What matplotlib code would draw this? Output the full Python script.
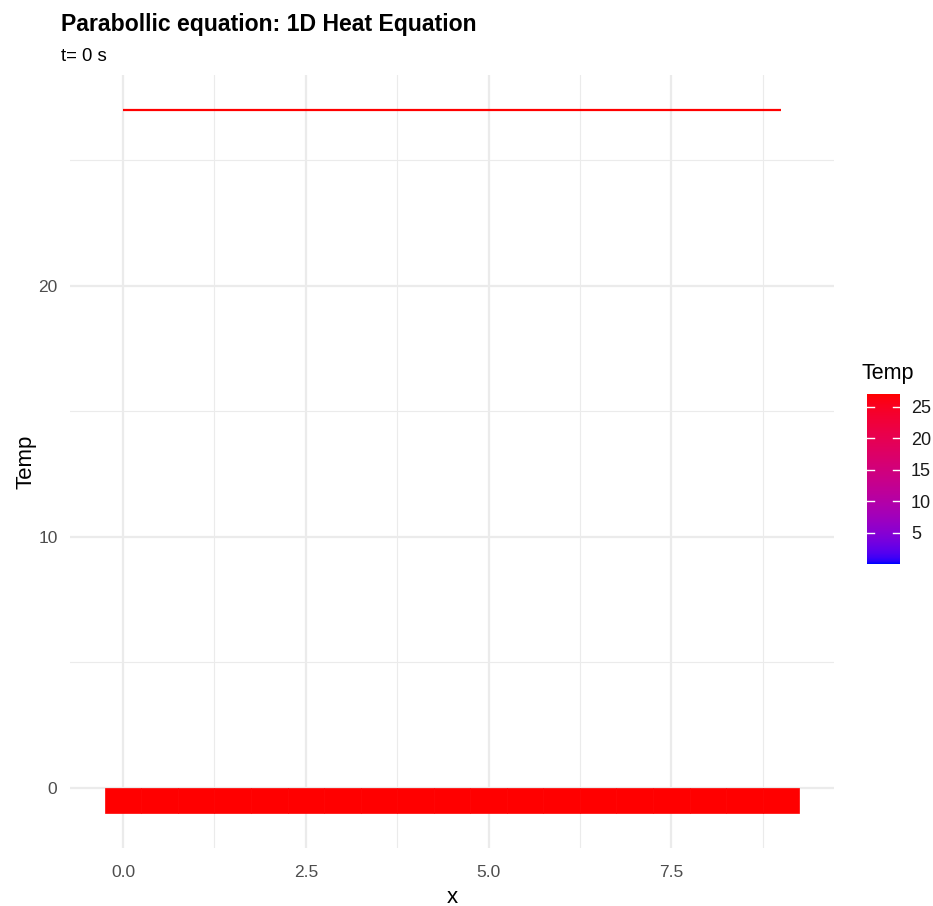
import numpy as np
import matplotlib
matplotlib.use("Agg")
import matplotlib.pyplot as plt
from matplotlib.colors import ListedColormap, Normalize
from matplotlib.patches import Rectangle

plt.rcParams['font.family'] = ['Liberation Sans', 'DejaVu Sans']

# grid points and temperature at t = 0
x = [0.0, 0.5, 1.0, 1.5, 2.0, 2.5, 3.0, 3.5, 4.0, 4.5,
     5.0, 5.5, 6.0, 6.5, 7.0, 7.5, 8.0, 8.5, 9.0]
temp = [27, 27, 27, 27, 27, 27, 27, 27, 27, 27,
        27, 27, 27, 27, 27, 27, 27, 27, 27]
temp_limits = [0, 27]
xticks = [0.0, 2.5, 5.0, 7.5]
xtick_labels = ['0.0', '2.5', '5.0', '7.5']
yticks = [0, 10, 20]
cbar_ticks = [5, 10, 15, 20, 25]

title = 'Parabollic equation: 1D Heat Equation'
subtitle = 't= 0 s'


# ggplot-like blue -> red gradient, interpolated in CIELAB
def srgb_to_lab(c):
    c = np.asarray(c, float)
    lin = np.where(c <= 0.04045, c / 12.92, ((c + 0.055) / 1.055) ** 2.4)
    M = np.array([[0.4124, 0.3576, 0.1805],
                  [0.2126, 0.7152, 0.0722],
                  [0.0193, 0.1192, 0.9505]])
    xyz = M @ lin / np.array([0.95047, 1.0, 1.08883])
    f = np.where(xyz > 0.008856, np.cbrt(xyz), 7.787 * xyz + 16 / 116)
    return np.array([116 * f[1] - 16, 500 * (f[0] - f[1]), 200 * (f[1] - f[2])])


def lab_to_srgb(lab):
    L, a, b = lab
    fy = (L + 16) / 116
    fx = fy + a / 500
    fz = fy - b / 200
    f = np.array([fx, fy, fz])
    xyz = np.where(f ** 3 > 0.008856, f ** 3, (f - 16 / 116) / 7.787)
    xyz = xyz * np.array([0.95047, 1.0, 1.08883])
    Minv = np.array([[3.2406, -1.5372, -0.4986],
                     [-0.9689, 1.8758, 0.0415],
                     [0.0557, -0.2040, 1.0570]])
    lin = Minv @ xyz
    c = np.where(lin <= 0.0031308, 12.92 * lin, 1.055 * np.clip(lin, 0, None) ** (1 / 2.4) - 0.055)
    return np.clip(c, 0, 1)


lo = srgb_to_lab([0, 0, 1])
hi = srgb_to_lab([1, 0, 0])
cmap = ListedColormap([lab_to_srgb(lo + (hi - lo) * t) for t in np.linspace(0, 1, 256)])
norm = Normalize(*temp_limits)

fig = plt.figure(figsize=(9.33, 9.06), dpi=100)
ax = fig.add_axes([70 / 933, 58 / 906, 764 / 933, 773 / 906])

grid_c = '#EBEBEB'
step = x[1] - x[0]
xmin, xmax = x[0] - step / 2, x[-1] + step / 2
ymin, ymax = -1, max(temp)
ex = (xmax - xmin) * 0.05
ey = (ymax - ymin) * 0.05
ax.set_xlim(xmin - ex, xmax + ex)
ax.set_ylim(ymin - ey, ymax + ey)

for v in [1.25, 3.75, 6.25, 8.75]:
    ax.axvline(v, color=grid_c, lw=0.8, zorder=0)
for v in [5, 15, 25]:
    ax.axhline(v, color=grid_c, lw=0.8, zorder=0)
for v in xticks:
    ax.axvline(v, color=grid_c, lw=1.6, zorder=0)
for v in yticks:
    ax.axhline(v, color=grid_c, lw=1.6, zorder=0)

# tiles at the bottom
for xi, ti in zip(x, temp):
    ax.add_patch(Rectangle((xi - step / 2, -1), step, 1, facecolor=cmap(norm(ti)),
                           edgecolor=cmap(norm(ti)), lw=0.5, zorder=2))

# temperature profile
for i in range(len(x) - 1):
    ax.plot(x[i:i + 2], temp[i:i + 2], color=cmap(norm((temp[i] + temp[i + 1]) / 2)),
            lw=1.6, solid_capstyle='butt', zorder=3)

for s in ax.spines.values():
    s.set_visible(False)
ax.set_xticks(xticks)
ax.set_xticklabels(xtick_labels)
ax.set_yticks(yticks)
ax.tick_params(length=0, labelsize=12.5, labelcolor='#4D4D4D')
ax.tick_params(axis='x', pad=12)
ax.tick_params(axis='y', pad=9)
ax.set_xlabel('x', fontsize=16, labelpad=5)
ax.set_ylabel('Temp', fontsize=16, labelpad=1)

fig.text(61 / 933, 1 - 31 / 906, title, fontsize=16.6, fontweight='bold', va='baseline')
fig.text(61 / 933, 1 - 61 / 906, subtitle, fontsize=13.3, va='baseline')

# colourbar legend
cax = fig.add_axes([867 / 933, 1 - 564 / 906, 33 / 933, 170 / 906])
grad = np.linspace(temp_limits[0], temp_limits[1], 300).reshape(-1, 1)
cax.imshow(grad, cmap=cmap, norm=norm, aspect='auto', origin='lower',
           extent=[0, 1, temp_limits[0], temp_limits[1]])
cax.set_xlim(0, 1)
cax.set_ylim(*temp_limits)
for t in cbar_ticks:
    cax.plot([0, 0.2], [t, t], color='white', lw=1)
    cax.plot([0.8, 1], [t, t], color='white', lw=1)
cax.set_xticks([])
cax.yaxis.tick_right()
cax.set_yticks(cbar_ticks)
cax.tick_params(length=0, labelsize=13, labelcolor='#1A1A1A', pad=8)
for s in cax.spines.values():
    s.set_visible(False)
fig.text(861 / 933, 1 - 374 / 906, 'Temp', fontsize=15.5, va='center')

fig.savefig('out.png', dpi=100)
